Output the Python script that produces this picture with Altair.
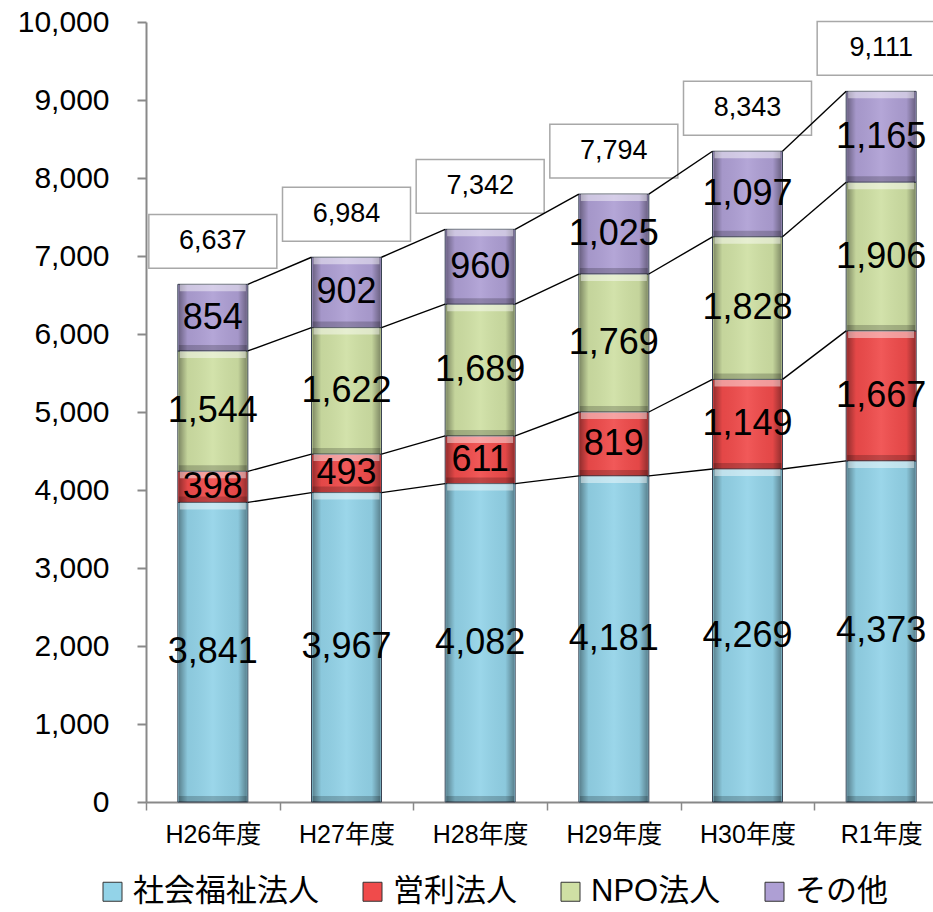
import altair as alt
import pandas as pd

# Fiscal years and counts per corporation type
years = ["H26年度", "H27年度", "H28年度", "H29年度", "H30年度", "R1年度"]
series_names = ["社会福祉法人", "営利法人", "NPO法人", "その他"]
social_welfare = [3841, 3967, 4082, 4181, 4269, 4373]
for_profit = [398, 493, 611, 819, 1149, 1667]
npo = [1544, 1622, 1689, 1769, 1828, 1906]
other = [854, 902, 960, 1025, 1097, 1165]
totals = [6637, 6984, 7342, 7794, 8343, 9111]

series_values = [social_welfare, for_profit, npo, other]
colors = ["#93d3e8", "#f04b4b", "#cfe0a4", "#ae9fd4"]

# Long table with explicit stack bounds
rows = []
tops = [[0] * len(years) for _ in series_names]
for i, year in enumerate(years):
    base = 0
    for s, name in enumerate(series_names):
        v = series_values[s][i]
        rows.append({"year": year, "series": name, "value": v,
                     "y0": base, "y1": base + v, "mid": base + v / 2})
        base += v
        tops[s][i] = base
df = pd.DataFrame(rows)

# Connector segments between neighbouring bars at each stack boundary
conn_rows = []
for s in range(len(series_names)):
    for i in range(len(years) - 1):
        conn_rows.append({"xa": years[i], "xb": years[i + 1],
                          "ya": tops[s][i], "yb": tops[s][i + 1]})
conn = pd.DataFrame(conn_rows)

tot = pd.DataFrame({"year": years, "total": totals})

BAR = 70
JP_FONT = "Liberation Sans, Noto Sans CJK JP"
x_scale = alt.Scale(domain=years, range=[0, 802], paddingInner=0, paddingOuter=0)
y_scale = alt.Scale(domain=[0, 10000])

x_enc = alt.X("year:N", sort=years, scale=x_scale,
              axis=alt.Axis(title=None, labelAngle=0, tickBand="extent",
                            domainColor="#898989", domainWidth=2,
                            tickColor="#898989", tickWidth=1.5, tickSize=8,
                            labelFont=JP_FONT, labelFontSize=25,
                            labelColor="black", labelPadding=12))
y_enc = alt.Y("y0:Q", scale=y_scale,
              axis=alt.Axis(title=None, values=list(range(0, 10001, 1000)),
                            format=",d", grid=False,
                            domainColor="#898989", domainWidth=2,
                            tickColor="#898989", tickWidth=2, tickSize=9,
                            labelFont="Liberation Sans", labelFontSize=30,
                            labelColor="black", labelPadding=28))

bars = alt.Chart(df).mark_bar(size=BAR, stroke="#3a4352", strokeWidth=1).encode(
    x=x_enc,
    y=y_enc,
    y2="y1:Q",
    color=alt.Color("series:N", scale=alt.Scale(domain=series_names, range=colors),
                    legend=alt.Legend(orient="none", legendX=-49, legendY=854,
                                      direction="horizontal", title=None,
                                      symbolType="square", symbolSize=361,
                                      symbolStrokeColor="#333333",
                                      symbolStrokeWidth=1, symbolOpacity=1,
                                      labelFont=JP_FONT,
                                      labelFontSize=31, labelColor="black",
                                      labelLimit=400,
                                      labelOffset=5, columnPadding=38)),
)

# Side shading for the bevelled look
edge_grad = alt.LinearGradient(
    gradient="linear", x1=0, x2=1, y1=0, y2=0,
    stops=[alt.GradientStop(offset=0, color="rgba(0,0,0,0.38)"),
           alt.GradientStop(offset=0.13, color="rgba(0,0,0,0.05)"),
           alt.GradientStop(offset=0.5, color="rgba(255,255,255,0.08)"),
           alt.GradientStop(offset=0.87, color="rgba(0,0,0,0.05)"),
           alt.GradientStop(offset=1, color="rgba(0,0,0,0.38)")])
edges = alt.Chart(df).mark_bar(size=BAR - 2, fill=edge_grad).encode(
    x=alt.X("year:N", sort=years, scale=x_scale),
    y=alt.Y("y0:Q", scale=y_scale), y2="y1:Q")

highlight = alt.Chart(df).mark_bar(size=BAR - 4, color="white", opacity=0.45,
                                   y2Offset=7).encode(
    x=alt.X("year:N", sort=years, scale=x_scale),
    y=alt.Y("y1:Q", scale=y_scale), y2="y1:Q")

shadow = alt.Chart(df).mark_bar(size=BAR - 2, color="black", opacity=0.2,
                                yOffset=-6).encode(
    x=alt.X("year:N", sort=years, scale=x_scale),
    y=alt.Y("y0:Q", scale=y_scale), y2="y0:Q")

seg_labels = alt.Chart(df).mark_text(font="Liberation Sans", fontSize=36,
                                     color="black", baseline="middle").encode(
    x=alt.X("year:N", sort=years, scale=x_scale),
    y=alt.Y("mid:Q", scale=y_scale),
    text=alt.Text("value:Q", format=","))

edge_off = (802 / 6 - BAR) / 2 / (802 / 6)
lines = alt.Chart(conn).mark_rule(color="black", strokeWidth=1.4).encode(
    x=alt.X("xa:N", scale=x_scale, bandPosition=1 - edge_off),
    x2=alt.X2("xb:N", bandPosition=edge_off),
    y=alt.Y("ya:Q", scale=y_scale),
    y2="yb:Q")

boxes = alt.Chart(tot).mark_point(shape="M-1,-0.42H1V0.42H-1Z", size=128 * 128,
                                  filled=True, fill="white", stroke="#a8a8a8",
                                  strokeWidth=1.5, opacity=1, yOffset=-43).encode(
    x=alt.X("year:N", sort=years, scale=x_scale),
    y=alt.Y("total:Q", scale=y_scale))

tot_labels = alt.Chart(tot).mark_text(font="Liberation Sans", fontSize=27,
                                      color="black", baseline="middle",
                                      yOffset=-43).encode(
    x=alt.X("year:N", sort=years, scale=x_scale),
    y=alt.Y("total:Q", scale=y_scale),
    text=alt.Text("total:Q", format=","))

chart = alt.layer(bars, edges, highlight, shadow, boxes, lines, seg_labels,
                  tot_labels).properties(
    width=787, height=780,
    padding={"left": 146, "top": 22, "right": 0, "bottom": 110},
    autosize=alt.AutoSizeParams(type="none"),
    background="white",
).configure_view(stroke=None)

chart.save("out.html", embed_options={"renderer": "svg", "actions": False})
